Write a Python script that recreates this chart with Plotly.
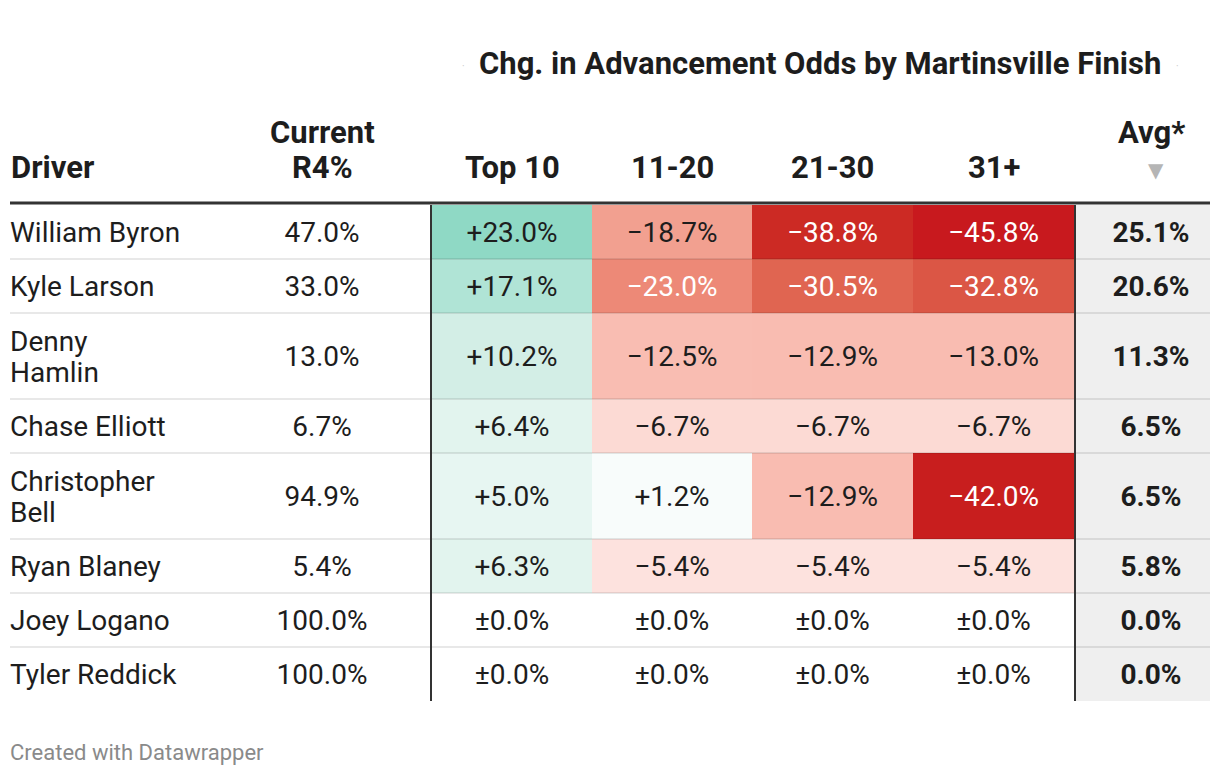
import plotly.graph_objects as go

# ---------------- data ----------------
drivers = ["William Byron", "Kyle Larson", "Denny<br>Hamlin", "Chase Elliott",
           "Christopher<br>Bell", "Ryan Blaney", "Joey Logano", "Tyler Reddick"]
current_r4 = [47.0, 33.0, 13.0, 6.7, 94.9, 5.4, 100.0, 100.0]
top10 = [23.0, 17.1, 10.2, 6.4, 5.0, 6.3, 0.0, 0.0]
f11_20 = [-18.7, -23.0, -12.5, -6.7, 1.2, -5.4, 0.0, 0.0]
f21_30 = [-38.8, -30.5, -12.9, -6.7, -12.9, -5.4, 0.0, 0.0]
f31p = [-45.8, -32.8, -13.0, -6.7, -42.0, -5.4, 0.0, 0.0]
avg = [25.1, 20.6, 11.3, 6.5, 6.5, 5.8, 0.0, 0.0]
finish_cols = ["Top 10", "11-20", "21-30", "31+"]
title = "Chg. in Advancement Odds by Martinsville Finish"

# ---------------- layout geometry (px, page coordinates) ----------------
W, H = 1220, 776
PAGE_MARGIN = 8   # browser body margin
FONT = "Roboto, 'Open Sans', sans-serif"
TXT = "#1d1d1d"
BODY = 28
HDR = 31
TEXT_DY = 3       # optical offset of body text within a row
x_driver = 10
x_current = 322
col_edges = [432, 592, 752, 913, 1074]
col_centers = [(col_edges[i] + col_edges[i + 1]) / 2 for i in range(4)]
x_avg_l, x_avg_r = 1076, 1210
x_avg = 1151
table_top = 205
line_gap = 31
row_h = [86 if "<br>" in d else 54 for d in drivers]
row_edges = [table_top]
for h in row_h:
    row_edges.append(row_edges[-1] + h)
row_centers = [(row_edges[i] + row_edges[i + 1]) / 2 for i in range(len(drivers))]
text_y = [y + TEXT_DY for y in row_centers]
table_bottom = row_edges[-1]

# colour scale (value -> colour)
zmin, zmax = -46.0, 23.0
stops = [(-46.0, "#c8191e"), (-42.0, "#c81e1e"), (-38.8, "#cc2a24"),
         (-32.8, "#db5645"), (-30.5, "#e06551"), (-23.0, "#ed8977"),
         (-18.7, "#f2a090"), (-13.0, "#f9bcb1"), (-12.5, "#f9bdb2"),
         (-6.7, "#fcdad4"), (-5.4, "#fde2de"), (0.0, "#ffffff"),
         (1.2, "#f8fcfb"), (5.0, "#e7f6f2"), (6.4, "#e2f4ee"),
         (10.2, "#d3eee6"), (17.1, "#b0e4d6"), (23.0, "#8fd9c5")]
colorscale = [[(v - zmin) / (zmax - zmin), c] for v, c in stops]


def fmt_change(v):
    if v == 0:
        return "±0.0%"
    return ("+" if v > 0 else "\u2212") + f"{abs(v):.1f}%"


fig = go.Figure()

# background of Avg column
fig.add_shape(type="rect", xref="x", yref="y", x0=x_avg_l, x1=x_avg_r,
              y0=table_top, y1=table_bottom, fillcolor="#efefef",
              line_width=0, layer="below")

# heatmap cells
z = [[top10[i], f11_20[i], f21_30[i], f31p[i]] for i in range(len(drivers))]
fig.add_trace(go.Heatmap(x=col_edges, y=row_edges, z=z, zmin=zmin, zmax=zmax,
                         colorscale=colorscale, showscale=False,
                         hoverinfo="skip"))

# row separators
for yb in row_edges[1:-1]:
    fig.add_shape(type="line", xref="x", yref="y", x0=10, x1=x_avg_r,
                  y0=yb, y1=yb, line=dict(color="rgba(0,0,0,0.09)", width=2))

# header line and vertical dividers
fig.add_shape(type="line", xref="x", yref="y", x0=10, x1=x_avg_r,
              y0=table_top - 2, y1=table_top - 2, line=dict(color="#333333", width=3))
for xv in [col_edges[0] - 1, col_edges[-1] + 1]:
    fig.add_shape(type="line", xref="x", yref="y", x0=xv, x1=xv,
                  y0=table_top, y1=table_bottom, line=dict(color="#333333", width=2))

# driver names (each line placed separately for tight line spacing)
name_x, name_y, name_t = [], [], []
for d, yc in zip(drivers, text_y):
    parts = d.split("<br>")
    n = len(parts)
    for k, p in enumerate(parts):
        name_x.append(x_driver)
        name_y.append(yc + (k - (n - 1) / 2) * line_gap)
        name_t.append(p)
fig.add_trace(go.Scatter(x=name_x, y=name_y, mode="text", text=name_t,
                         textposition="middle right",
                         textfont=dict(family=FONT, size=BODY, color=TXT),
                         hoverinfo="skip", cliponaxis=False))
fig.add_trace(go.Scatter(x=[x_current] * len(drivers), y=text_y, mode="text",
                         text=[f"{v:.1f}%" for v in current_r4],
                         textposition="middle center",
                         textfont=dict(family=FONT, size=BODY, color=TXT),
                         hoverinfo="skip", cliponaxis=False))
for ci, series in enumerate([top10, f11_20, f21_30, f31p]):
    fig.add_trace(go.Scatter(
        x=[col_centers[ci]] * len(drivers), y=text_y, mode="text",
        text=[fmt_change(v) for v in series], textposition="middle center",
        textfont=dict(family=FONT, size=BODY,
                      color=["#ffffff" if v <= -23 else TXT for v in series]),
        hoverinfo="skip", cliponaxis=False))
fig.add_trace(go.Scatter(x=[x_avg] * len(drivers), y=text_y, mode="text",
                         text=[f"<b>{v:.1f}%</b>" for v in avg],
                         textposition="middle center",
                         textfont=dict(family=FONT, size=BODY, color=TXT),
                         hoverinfo="skip", cliponaxis=False))

# headers
ann = []
hdr_font = dict(family=FONT, size=HDR, color=TXT)
ann.append(dict(x=9, y=167, text="<b>Driver</b>", xanchor="left", yanchor="middle",
                font=hdr_font))
ann.append(dict(x=x_current, y=132, text="<b>Current</b>", xanchor="center",
                yanchor="middle", font=hdr_font))
ann.append(dict(x=x_current, y=167, text="<b>R4%</b>", xanchor="center",
                yanchor="middle", font=hdr_font))
for c, name in zip(col_centers, finish_cols):
    ann.append(dict(x=c, y=167, text=f"<b>{name}</b>", xanchor="center",
                    yanchor="middle", font=hdr_font))
ann.append(dict(x=x_avg, y=132, text="<b>Avg*</b>", xanchor="center",
                yanchor="middle", font=hdr_font))
ann.append(dict(x=1156, y=170, text="▼", xanchor="center", yanchor="middle",
                font=dict(family="DejaVu Sans", size=20, color="#b5b5b5")))
ann.append(dict(x=820, y=63, text=f"<b>{title}</b>", xanchor="center",
                yanchor="middle", font=hdr_font))
for xd in [463, 1177]:
    ann.append(dict(x=xd, y=66, text="·", xanchor="center", yanchor="middle",
                    font=dict(family=FONT, size=10, color="#c8c8c8")))
ann.append(dict(x=8, y=752, text="Created with Datawrapper", xanchor="left",
                yanchor="middle", font=dict(family=FONT, size=22, color="#8a8a8a")))
for a in ann:
    a.update(xref="x", yref="y", showarrow=False)

fig.update_layout(
    width=W - 2 * PAGE_MARGIN, height=H - 2 * PAGE_MARGIN, autosize=False,
    margin=dict(l=0, r=0, t=0, b=0),
    paper_bgcolor="white", plot_bgcolor="white",
    showlegend=False, annotations=ann,
    xaxis=dict(range=[PAGE_MARGIN, W - PAGE_MARGIN], visible=False, fixedrange=True),
    yaxis=dict(range=[H - PAGE_MARGIN, PAGE_MARGIN], visible=False, fixedrange=True),
)

fig.write_html("out.html")
